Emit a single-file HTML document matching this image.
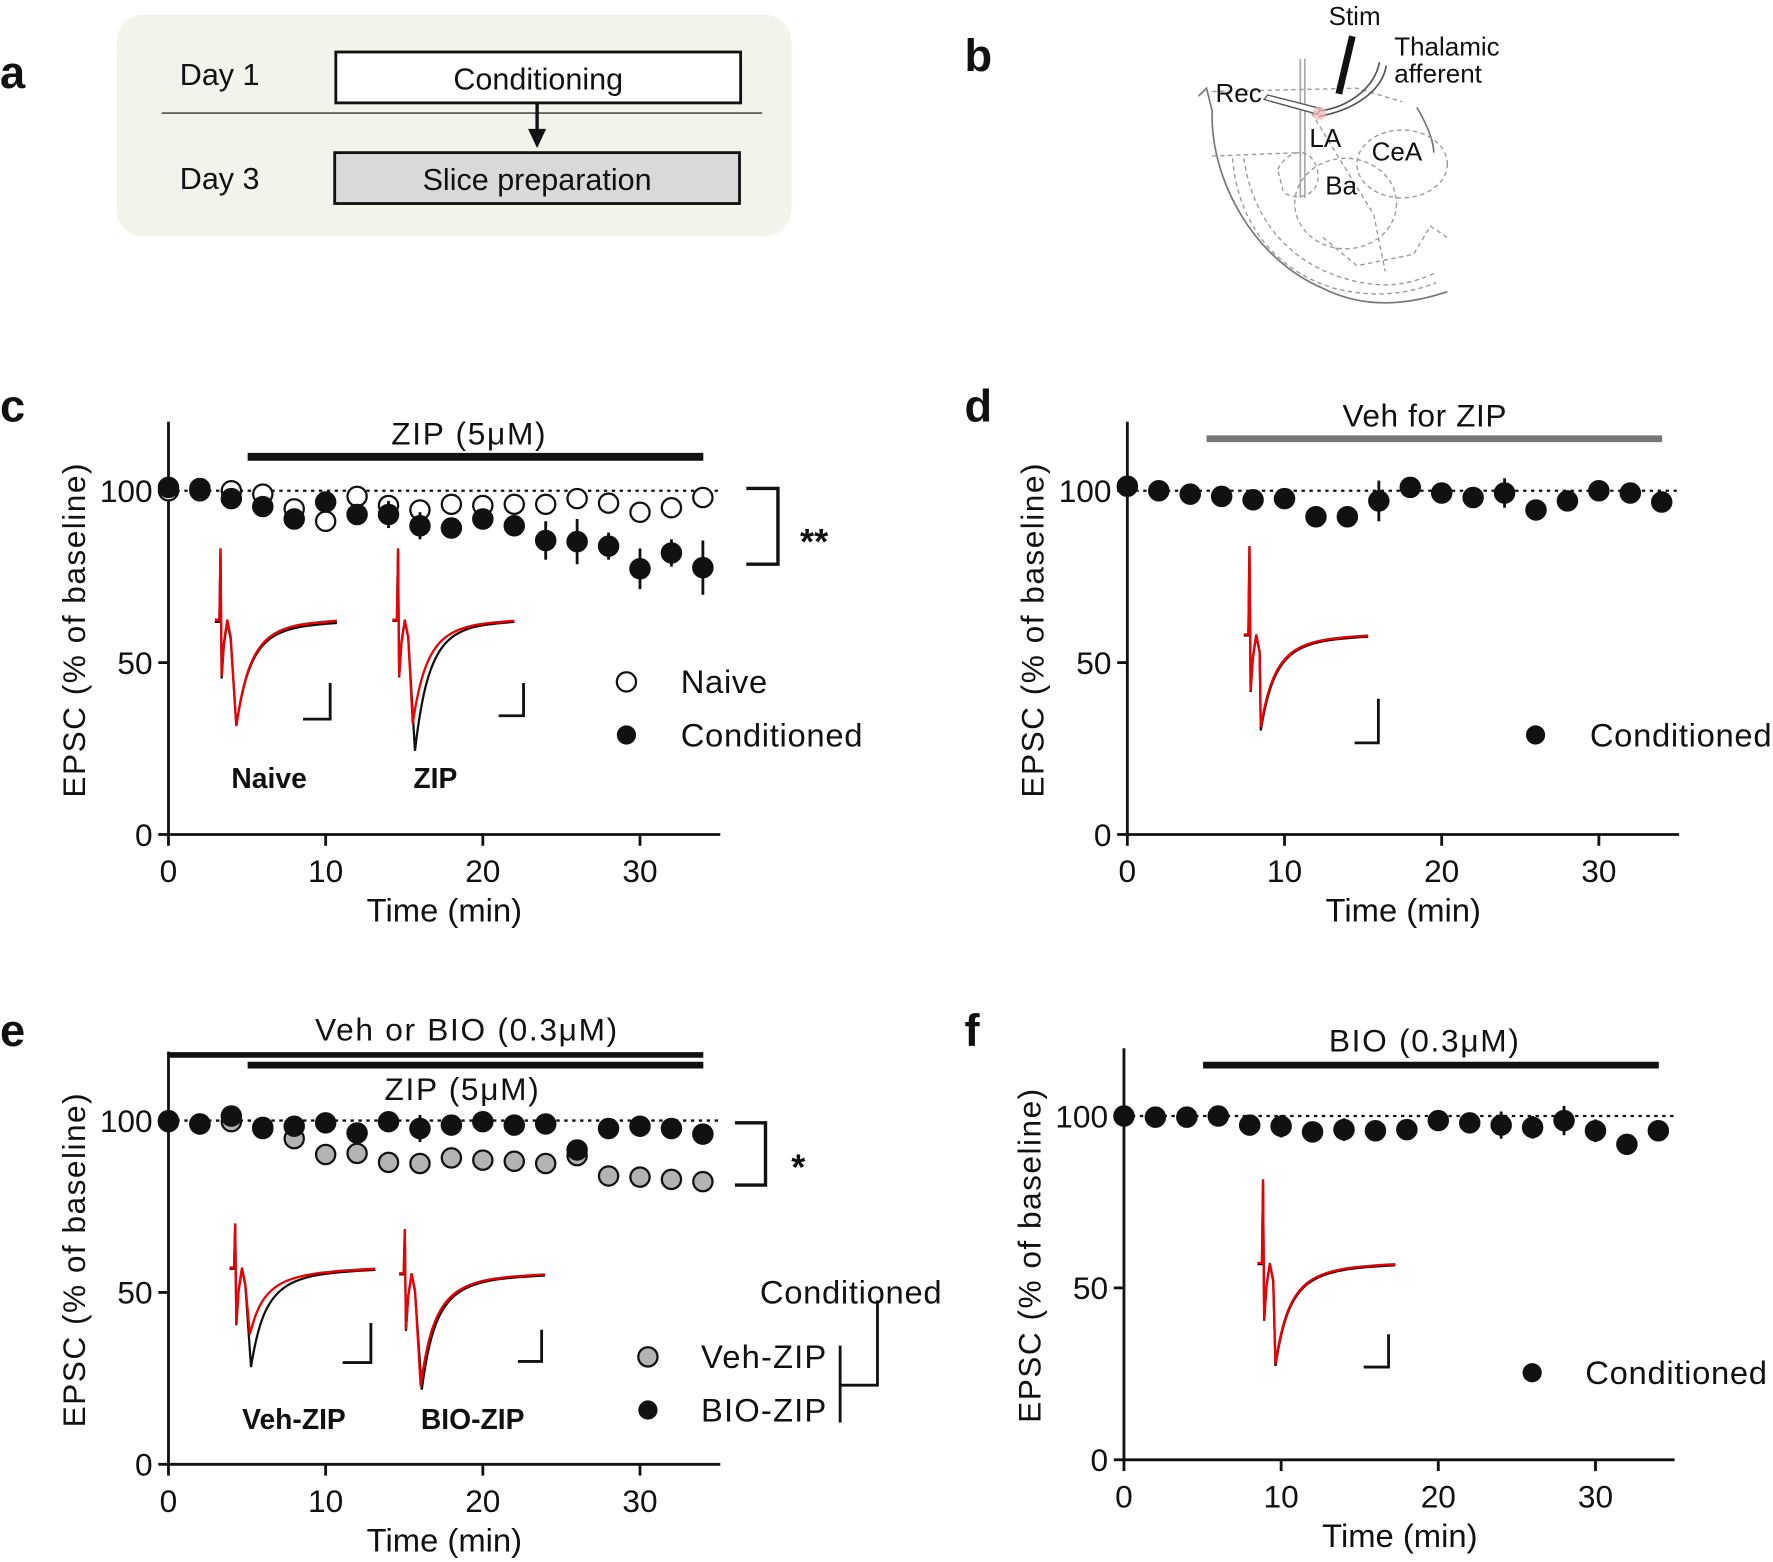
<!DOCTYPE html>
<html><head><meta charset="utf-8"><style>
html,body{margin:0;padding:0;background:#fff}
svg{display:block}
text{font-family:"Liberation Sans",Arial,sans-serif;fill:#111}
</style></head><body>
<svg id="s" width="1773" height="1562" viewBox="0 0 1568 1381.4" preserveAspectRatio="none" xmlns="http://www.w3.org/2000/svg">
<!-- panel a -->
<text x="0" y="78" font-size="40" font-weight="bold">a</text>
<rect x="103" y="13" width="597" height="196" rx="24" fill="#f1f4ea"/>
<text x="159" y="75" font-size="27">Day 1</text>
<rect x="297" y="46" width="358" height="45" fill="#fff" stroke="#111" stroke-width="2.5"/>
<text x="476" y="79" font-size="27" text-anchor="middle">Conditioning</text>
<line x1="143" y1="100" x2="674" y2="100" stroke="#333" stroke-width="1.2"/>
<line x1="475" y1="91" x2="475" y2="118" stroke="#111" stroke-width="3"/>
<path d="M467,114 L483,114 L475,131 Z" fill="#111"/>
<text x="159" y="167" font-size="27">Day 3</text>
<rect x="296" y="135" width="358" height="45" fill="#d9d9d9" stroke="#111" stroke-width="2.5"/>
<text x="475" y="168" font-size="27" text-anchor="middle">Slice preparation</text>
<!-- panel b -->
<text x="853" y="63" font-size="40" font-weight="bold">b</text>
<g fill="none" stroke="#777" stroke-width="1.5">
<path d="M1060,85 L1067,78 L1072,98 C1070,160 1110,230 1170,255 C1210,275 1250,268 1280,258"/>
<path d="M1253,95 C1262,110 1268,125 1268,135"/>
<line x1="1150" y1="52" x2="1150" y2="175" stroke="#aaa"/>
<line x1="1154" y1="52" x2="1154" y2="175" stroke="#aaa"/>
</g>
<g fill="none" stroke="#999" stroke-width="1.2" stroke-dasharray="4,3">
<path d="M1072,81 L1200,78 L1240,90"/>
<path d="M1072,138 L1150,135"/>
<path d="M1090,140 C1095,200 1130,240 1180,255 C1220,265 1250,258 1270,250"/>
<path d="M1100,140 C1108,195 1140,230 1185,245 C1225,258 1250,250 1268,242"/>
<ellipse cx="1240" cy="145" rx="40" ry="30"/>
<ellipse cx="1190" cy="180" rx="45" ry="40"/>
<path d="M1130,150 C1140,130 1160,130 1165,150 C1170,170 1150,180 1135,170 Z"/>
<path d="M1170,210 L1200,235 L1250,225 L1265,200 L1280,210"/>
<path d="M1160,100 L1215,190 L1225,240"/>
</g>
<path d="M1118,88 L1165,101 L1168,96 L1121,84 Z" fill="#fff" stroke="#555" stroke-width="1.2"/>
<path d="M1168,98 C1190,95 1215,80 1220,55 M1166,103 C1195,98 1222,82 1226,58" fill="none" stroke="#555" stroke-width="1.5"/>
<circle cx="1167" cy="100" r="6" fill="#f4b6b6" opacity="0.7"/>
<line x1="1196" y1="32" x2="1184" y2="83" stroke="#111" stroke-width="6"/>
<text x="1175" y="22" font-size="23">Stim</text>
<text x="1233" y="49" font-size="23">Thalamic</text>
<text x="1233" y="73" font-size="23">afferent</text>
<text x="1075" y="90" font-size="23">Rec</text>
<text x="1158" y="130" font-size="23">LA</text>
<text x="1213" y="142" font-size="23">CeA</text>
<text x="1172" y="172" font-size="23">Ba</text>
<g id="plots"></g>
</svg>
<script>
const NS="http://www.w3.org/2000/svg";
const G=document.getElementById('plots');
function el(t,a,txt){const e=document.createElementNS(NS,t);for(const k in a)e.setAttribute(k,a[k]);if(txt!==undefined)e.textContent=txt;G.appendChild(e);return e;}
function txt(x,y,s,fs,anchor,extra){const a={x:x,y:y,'font-size':fs,'text-anchor':anchor||'start'};Object.assign(a,extra||{});return el('text',a,s);}
function axes(o){
 const {x0,y0,top,xe,pm,pu}=o;
 el('line',{x1:x0,y1:top,x2:x0,y2:y0,stroke:'#111','stroke-width':2.5});
 el('line',{x1:x0,y1:y0,x2:xe,y2:y0,stroke:'#111','stroke-width':2.5});
 [0,50,100].forEach(v=>{const y=y0-v*pu;el('line',{x1:x0-9,y1:y,x2:x0,y2:y,stroke:'#111','stroke-width':2.5});txt(x0-14,y+10,String(v),28,'end');});
 [0,10,20,30].forEach(v=>{const x=x0+v*pm;el('line',{x1:x,y1:y0,x2:x,y2:y0+10,stroke:'#111','stroke-width':2.5});txt(x,y0+42,String(v),28,'middle');});
 txt(x0+244,y0+77,'Time (min)',29,'middle');
 const cy=y0-181;
 txt(0,0,'EPSC (% of baseline)',28,'middle',{transform:`translate(${x0-74},${cy}) rotate(-90)`,'letter-spacing':'1.3'});
 el('line',{x1:x0,y1:y0-100*pu,x2:xe,y2:y0-100*pu,stroke:'#111','stroke-width':2,'stroke-dasharray':'3,4'});
}
function pts(x0,pm,ys,fill,errs){
 ys.forEach((y,i)=>{const x=x0+2*i*pm;const e=errs?errs[i]:0;if(e)el('line',{x1:x,y1:y-e,x2:x,y2:y+e,stroke:'#111','stroke-width':2.5});
 el('circle',{cx:x,cy:y,r:8.5,fill:fill,stroke:'#111','stroke-width':2});});
}
function trace(x,base,spike,dip,dx,end,color,w){
 const d=`M${x},${base} L${x+4},${base} L${x+5},${spike} L${x+6},${base+50} L${x+8},${base+20} L${x+11},${base} L${x+14},${base+15} L${x+dx},${dip} C${x+dx+12},${base+10} ${x+dx+30},${base+5} ${end},${base+1}`;
 el('path',{d:d,fill:'none',stroke:color,'stroke-width':w||2});
}
function scalebar(x,y1,y2,xl){el('path',{d:`M${x},${y1} L${x},${y2} L${xl},${y2}`,fill:'none',stroke:'#111','stroke-width':2.5});}
function bar(x1,x2,y,c,t){el('line',{x1:x1,y1:y,x2:x2,y2:y,stroke:c||'#111','stroke-width':t||7});}
function bracket(x1,x2,y1,y2){el('path',{d:`M${x1},${y1} L${x2},${y1} L${x2},${y2} L${x1},${y2}`,fill:'none',stroke:'#111','stroke-width':3});}
const T={'letter-spacing':'1.5'};
// panel c
txt(0,373,'c',40,'start',{'font-weight':'bold'});
axes({x0:149,y0:738,top:373,xe:637,pm:13.9,pu:3.04});
bar(219,622,404);txt(415,393,'ZIP (5μM)',28,'middle',T);
pts(149,13.9,[434,434,434,437,450,461,439,447,451,446,447,446,446,441,445,453,449,440],'#fff',[0,0,0,0,0,0,0,0,0,0,0,0,0,0,0,8,0,0]);
pts(149,13.9,[431,432,441,448,459,444,455,455,465,467,459,465,478,479,483,503,489,502],'#111',[0,0,0,0,0,0,0,12,12,8,8,0,17,20,12,18,12,24]);
bracket(660,688,432,499);txt(720,490,'**',32,'middle',{'font-weight':'bold'});
trace(190,550,485,642,19,298,'#111');trace(190,548,485,642,19,298,'#e00');
trace(347,549,485,664,20,455,'#111');trace(347,548,485,640,18,455,'#e00');
scalebar(292,604,636,268);scalebar(463,604,633,441);
txt(238,697,'Naive',25,'middle',{'font-weight':'bold'});txt(385,697,'ZIP',25,'middle',{'font-weight':'bold'});
el('circle',{cx:554,cy:603,r:8.5,fill:'#fff',stroke:'#111','stroke-width':2});txt(602,613,'Naive',29,'start',{'letter-spacing':'0.6'});
el('circle',{cx:554,cy:650,r:8.5,fill:'#111'});txt(602,660,'Conditioned',29,'start',{'letter-spacing':'0.6'});
// panel d
txt(853,373,'d',40,'start',{'font-weight':'bold'});
axes({x0:997,y0:738,top:373,xe:1485,pm:13.9,pu:3.04});
bar(1067,1470,388,'#777',6);txt(1260,377,'Veh for ZIP',28,'middle',{'letter-spacing':'0.5'});
pts(997,13.9,[430,434,437,439,442,441,457,457,443,431,436,440,436,451,443,434,436,444],'#111',[0,0,0,0,0,0,0,0,18,0,0,0,13,0,0,8,0,9]);
trace(1100,562,483,646,15,1210,'#111');trace(1100,561,483,643,15,1210,'#e00');
scalebar(1219,618,657,1198);
el('circle',{cx:1358,cy:650,r:8.5,fill:'#111'});txt(1406,660,'Conditioned',29,'start',{'letter-spacing':'0.6'});
// panel e
txt(0,925,'e',40,'start',{'font-weight':'bold'});
axes({x0:149,y0:1295,top:930,xe:637,pm:13.9,pu:3.04});
bar(149,622,933,'#111',5);bar(219,622,942,'#111',6);
txt(413,920,'Veh or BIO (0.3μM)',28,'middle',T);txt(409,973,'ZIP (5μM)',28,'middle',T);
pts(149,13.9,[991,994,992,998,1007,1021,1020,1028,1029,1024,1026,1027,1029,1022,1040,1041,1043,1045],'#b3b3b3',[0,0,0,0,0,0,8,8,0,8,0,0,8,0,0,8,0,0]);
pts(149,13.9,[992,994,987,997,996,993,1002,992,998,995,992,995,994,1017,998,996,998,1003],'#111',[0,0,0,0,0,0,0,8,12,8,8,8,0,0,0,0,8,8]);
bracket(650,677,993,1048);txt(706,1043,'*',32,'middle',{'font-weight':'bold'});
trace(203,1122,1082,1209,19,332,'#111');trace(203,1121,1082,1180,18,332,'#e00');
trace(353,1127,1087,1229,20,482,'#111');trace(353,1126,1087,1226,19,482,'#e00');
scalebar(328,1170,1205,303);scalebar(479,1176,1204,458);
txt(260,1264,'Veh-ZIP',25,'middle',{'font-weight':'bold'});txt(418,1264,'BIO-ZIP',25,'middle',{'font-weight':'bold'});
txt(672,1153,'Conditioned',29,'start',{'letter-spacing':'0.6'});
el('circle',{cx:573,cy:1200,r:8.5,fill:'#b3b3b3',stroke:'#111','stroke-width':2});txt(620,1210,'Veh-ZIP',29,'start',{'letter-spacing':'1'});
el('circle',{cx:573,cy:1247,r:8.5,fill:'#111'});txt(620,1257,'BIO-ZIP',29,'start',{'letter-spacing':'1'});
el('path',{d:'M776,1150 L776,1225 L743,1225',fill:'none',stroke:'#111','stroke-width':2.5});
el('line',{x1:743,y1:1190,x2:743,y2:1258,stroke:'#111','stroke-width':2.5});
// panel f
txt(853,925,'f',40,'start',{'font-weight':'bold'});
axes({x0:994,y0:1291,top:927,xe:1481,pm:13.9,pu:3.04});
bar(1064,1467,942,'#111',6);txt(1260,930,'BIO (0.3μM)',28,'middle',T);
pts(994,13.9,[987,988,988,987,995,996,1001,999,1000,999,991,993,995,997,991,1000,1012,1000],'#111',[0,0,0,0,0,10,0,10,0,0,9,9,12,10,13,10,0,8]);
trace(1112,1118,1043,1208,16,1234,'#111');trace(1112,1117,1043,1206,16,1234,'#e00');
scalebar(1228,1180,1209,1206);
el('circle',{cx:1355,cy:1214,r:8.5,fill:'#111'});txt(1402,1224,'Conditioned',29,'start',{'letter-spacing':'0.6'});
</script>
</body></html>
